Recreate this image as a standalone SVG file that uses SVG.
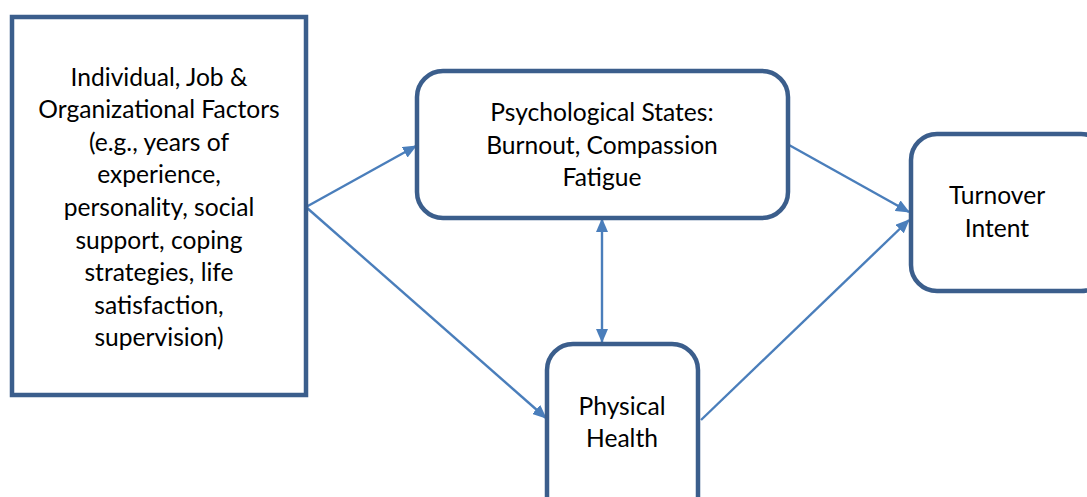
<svg xmlns="http://www.w3.org/2000/svg" width="1087" height="497" viewBox="0 0 1087 497">
<style>
.box{fill:#fff;stroke:#3B5E8C;stroke-width:4.5}
.t{font-family:Lato,"Open Sans",sans-serif;font-size:24.6px;fill:#000;text-anchor:middle}
.c{stroke:#4A7EBB;stroke-width:2.4;fill:none;marker-end:url(#ah)}
</style>
<defs>
<marker id="ah" viewBox="0 0 14 12" refX="13" refY="6" markerWidth="14" markerHeight="12" orient="auto-start-reverse" markerUnits="userSpaceOnUse">
<path d="M0,0 L14,6 L0,12 z" fill="#4A7EBB"/>
</marker>
</defs>
<g id="connectors">
<line class="c" x1="306" y1="207" x2="416" y2="146"/>
<line class="c" x1="306" y1="207" x2="546" y2="418"/>
<line class="c" x1="602" y1="219" x2="602" y2="342" style="marker-start:url(#ah)"/>
<line class="c" x1="789" y1="145" x2="909" y2="212"/>
<line class="c" x1="701" y1="420" x2="909" y2="220"/>
</g>
<g id="factors">
<rect class="box" x="12" y="17" width="294" height="378"/>
<text class="t"><tspan x="159" y="86">Individual, Job &amp;</tspan><tspan x="159" y="118">Organizational Factors</tspan><tspan x="159" y="151">(e.g., years of</tspan><tspan x="159" y="183">experience,</tspan><tspan x="159" y="216">personality, social</tspan><tspan x="159" y="249">support, coping</tspan><tspan x="159" y="281">strategies, life</tspan><tspan x="159" y="314">satisfaction,</tspan><tspan x="159" y="346">supervision)</tspan></text>
</g>
<g id="psych">
<rect class="box" x="417" y="71" width="371" height="147" rx="26"/>
<text class="t"><tspan x="602" y="121">Psychological States:</tspan><tspan x="602" y="154">Burnout, Compassion</tspan><tspan x="602" y="186">Fatigue</tspan></text>
</g>
<g id="turnover">
<rect class="box" x="911" y="134" width="196" height="157" rx="26"/>
<text class="t"><tspan x="997" y="204">Turnover</tspan><tspan x="997" y="237">Intent</tspan></text>
</g>
<g id="physical">
<rect class="box" x="547" y="344" width="151" height="180" rx="26"/>
<text class="t"><tspan x="622" y="415">Physical</tspan><tspan x="622" y="447">Health</tspan></text>
</g>
</svg>
